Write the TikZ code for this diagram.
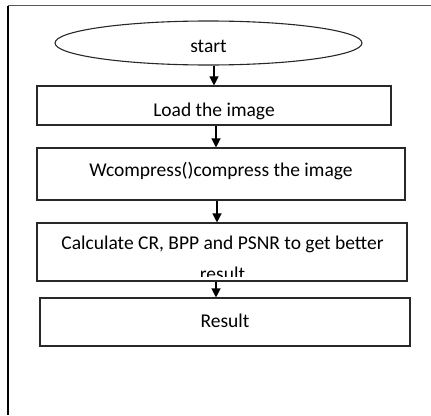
\documentclass[tikz,border=0pt]{standalone}
\usepackage{fontspec}
\setmainfont{Carlito}
\usetikzlibrary{
    shapes.geometric,
    arrows.meta,
    positioning,
    calc
}
\definecolor{boxline}{RGB}{40, 40, 40}

\begin{document}
\begin{tikzpicture}[x=1pt, y=-1pt,
    stepbox/.style={draw=boxline, line width=1.1pt, rectangle, inner sep=0pt},
    flow/.style={line width=1.2pt, -{Triangle[length=9pt,width=9pt]}},
    lbl/.style={font=\fontsize{19.5}{26}\selectfont}
]
\useasboundingbox (0,0) rectangle (431,415);

% page frame (left and top edges only)
\draw[line width=2pt] (7.5,5.5) -- (7.5,415);
\draw[gray!70!black, line width=1.4pt] (7.5,5.5) -- (431,5.5);

% terminal (text sits a little below the middle)
\node[ellipse, draw=boxline, line width=1.1pt, minimum width=307, minimum height=44,
      text height=19pt, text depth=0pt, lbl] (start) at (208.5,43) {start};

% process steps: text height/depth put each baseline low in its box
\node[stepbox, minimum width=354, text height=30.5pt, text depth=8.5pt, lbl]
    (load) at (214,105.5) {Load the image};
\node[stepbox, minimum width=368, text height=28.7pt, text depth=23.3pt, lbl]
    (wcomp) at (221,174) {Wcompress()compress the image};
\node[stepbox, minimum width=370, minimum height=58] (calc) at (222,252) {};
\node[stepbox, minimum width=370, text height=29.3pt, text depth=18.7pt, lbl]
    (result) at (225,322) {Result};

% text of the calc box runs past its lower edge
\begin{scope}
  \clip (calc.north west) rectangle ($(calc.south east)+(0,-5)$);
  \node[lbl, anchor=base, inner sep=0pt] (calcA) at (222.5,249) {Calculate CR, BPP and PSNR to get better};
  \node[lbl, anchor=base, inner sep=0pt] (calcB) at (222.5,280.5) {result};
\end{scope}

% arrows
\draw[flow] (start.south -| load.north) -- (load.north);
\draw[flow] (load.south -| 216,0) -- (wcomp.north -| 216,0);
\draw[flow] (wcomp.south -| 217,0) -- (calc.north -| 217,0);
\draw[flow] (calc.south -| 216,0) -- (result.north -| 216,0);

\end{tikzpicture}
\end{document}
